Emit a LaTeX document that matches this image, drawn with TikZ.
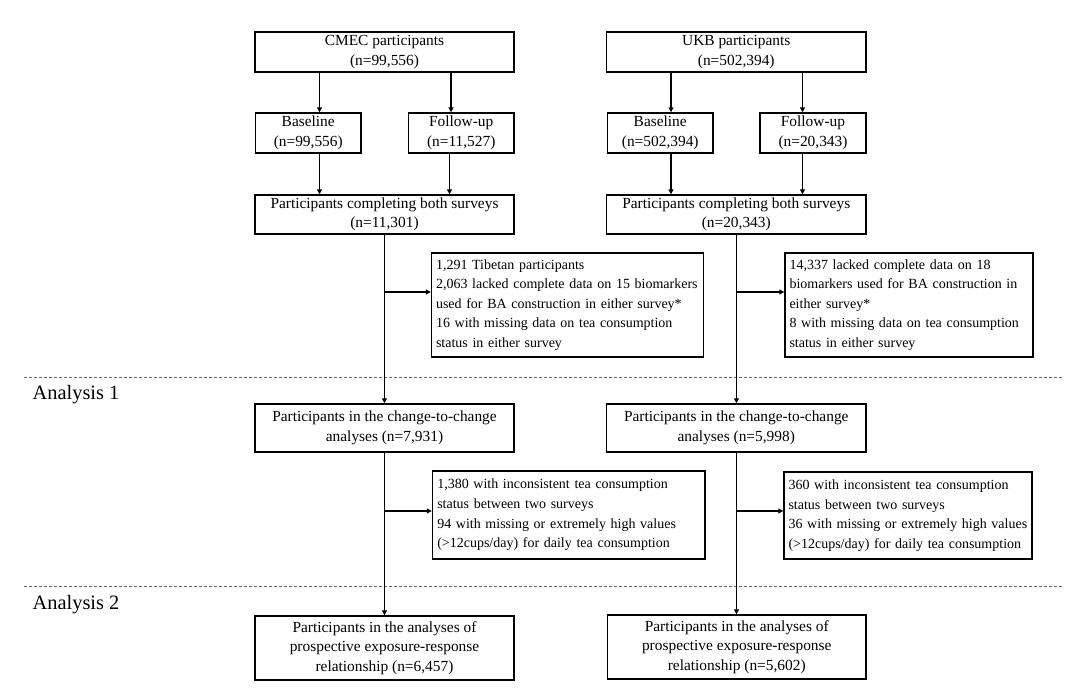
\documentclass[tikz,border=0pt]{standalone}
\usepackage{fontspec}
\setmainfont{Liberation Serif}
\usetikzlibrary{arrows.meta}
\begin{document}
\begin{tikzpicture}[x=1pt,y=-1pt,
  box/.style={draw,line width=1.4pt,inner sep=0pt,align=center,font=\fontsize{15.4}{19.5}\selectfont},
  exbox/.style={draw,line width=1.4pt,inner sep=0pt,align=left,font=\fontsize{14}{19.6}\selectfont},
  arr/.style={line width=1.3pt,-{Triangle[length=5pt,width=5pt]}},
  sep/.style={draw=black!60,line width=0.8pt,dash pattern=on 3pt off 2pt},
  lab/.style={anchor=west,inner sep=0pt,font=\fontsize{20.4}{23}\selectfont}]
\useasboundingbox (0,0) rectangle (1080,691);
% CMEC column
\node[box,minimum width=259pt,minimum height=40pt] (cmec) at (384.5,52) {CMEC participants\\(n=99,556)};
\node[box,minimum width=105.5pt,minimum height=40pt] (cbl) at (308.25,133) {Baseline\\(n=99,556)};
\node[box,minimum width=105.5pt,minimum height=40pt] (cfu) at (461.25,133) {Follow-up\\(n=11,527)};
\node[box,minimum width=259pt,minimum height=39pt] (cboth) at (384.5,214.5) {Participants completing both surveys\\(n=11,301)};
\node[exbox,minimum width=272pt,minimum height=104pt,text width=263pt] (cex1) at (567.5,305) {1,291 Tibetan participants\\2,063 lacked complete data on 15 biomarkers\\used for BA construction in either survey*\\16 with missing data on tea consumption\\status in either survey};
\node[box,minimum width=259pt,minimum height=48pt] (cchg) at (384.5,428) {Participants in the change-to-change\\analyses (n=7,931)};
\node[exbox,minimum width=272.5pt,minimum height=88pt,text width=263pt] (cex2) at (568.75,515) {1,380 with inconsistent tea consumption\\status between two surveys\\94 with missing or extremely high values\\(>12cups/day) for daily tea consumption};
\node[box,minimum width=259pt,minimum height=64pt] (cfin) at (384.5,648) {Participants in the analyses of\\prospective exposure-response\\relationship (n=6,457)};
% UKB column
\node[box,minimum width=259.5pt,minimum height=40pt] (ukb) at (736.25,52) {UKB participants\\(n=502,394)};
\node[box,minimum width=105.5pt,minimum height=40pt] (ubl) at (660.25,133) {Baseline\\(n=502,394)};
\node[box,minimum width=106pt,minimum height=40pt] (ufu) at (813,133) {Follow-up\\(n=20,343)};
\node[box,minimum width=259.5pt,minimum height=39pt] (uboth) at (736.25,214.5) {Participants completing both surveys\\(n=20,343)};
\node[exbox,minimum width=248pt,minimum height=104pt,text width=239pt] (uex1) at (909,305) {14,337 lacked complete data on 18\\biomarkers used for BA construction in\\either survey*\\8 with missing data on tea consumption\\status in either survey};
\node[box,minimum width=259.5pt,minimum height=48pt] (uchg) at (736.25,428) {Participants in the change-to-change\\analyses (n=5,998)};
\node[exbox,minimum width=248pt,minimum height=87pt,text width=239pt] (uex2) at (908,515.5) {360 with inconsistent tea consumption\\status between two surveys\\36 with missing or extremely high values\\(>12cups/day) for daily tea consumption};
\node[box,minimum width=258.5pt,minimum height=64pt] (ufin) at (736.75,647) {Participants in the analyses of\\prospective exposure-response\\relationship (n=5,602)};
% separators and labels
\coordinate (s1l) at (24,377); \coordinate (s1r) at (1063,377);
\coordinate (s2l) at (24,586); \coordinate (s2r) at (1063,586);
\draw[sep] (s1l) -- (s1r);
\draw[sep] (s2l) -- (s2r);
\node[lab] (a1) at (32.5,395) {Analysis 1};
\node[lab] (a2) at (32.5,605) {Analysis 2};
% arrow x positions
\coordinate (xc1) at (319.5,0); \coordinate (xc2) at (451,0); \coordinate (xc3) at (449.5,0);
\coordinate (xcm) at (384.5,0);
\coordinate (xu1) at (671,0); \coordinate (xu2) at (802.5,0); \coordinate (xum) at (736.5,0);
\draw[arr] (cmec.south -| xc1) -- (cbl.north -| xc1);
\draw[arr] (cmec.south -| xc2) -- (cfu.north -| xc2);
\draw[arr] (cbl.south -| xc1) -- (cboth.north -| xc1);
\draw[arr] (cfu.south -| xc3) -- (cboth.north -| xc3);
\draw[arr] (cboth.south -| xcm) -- (cchg.north -| xcm);
\draw[arr] (cchg.south -| xcm) -- (cfin.north -| xcm);
\coordinate (cb1) at (384.5,292); \coordinate (cb2) at (384.5,511);
\draw[arr] (cb1) -- (cb1 -| cex1.west);
\draw[arr] (cb2) -- (cb2 -| cex2.west);
\draw[arr] (ukb.south -| xu1) -- (ubl.north -| xu1);
\draw[arr] (ukb.south -| xu2) -- (ufu.north -| xu2);
\draw[arr] (ubl.south -| xu1) -- (uboth.north -| xu1);
\draw[arr] (ufu.south -| xu2) -- (uboth.north -| xu2);
\draw[arr] (uboth.south -| xum) -- (uchg.north -| xum);
\draw[arr] (uchg.south -| xum) -- (ufin.north -| xum);
\coordinate (ub1) at (736.5,292); \coordinate (ub2) at (736.5,511);
\draw[arr] (ub1) -- (ub1 -| uex1.west);
\draw[arr] (ub2) -- (ub2 -| uex2.west);
\end{tikzpicture}
\end{document}
